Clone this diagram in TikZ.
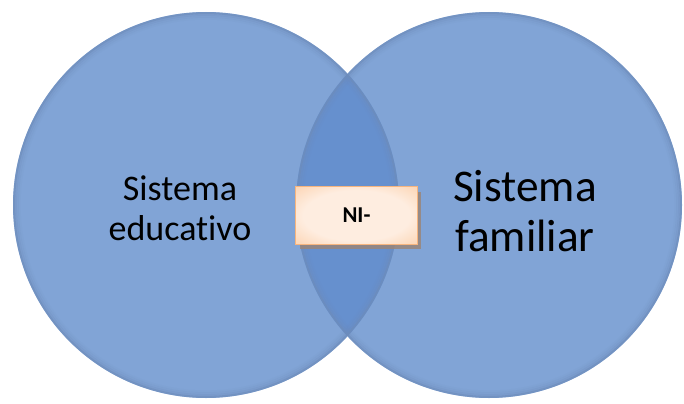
\documentclass[tikz,border=0pt]{standalone}
\usepackage{fontspec}
\setmainfont{Carlito}[Ligatures=NoCommon]
\usetikzlibrary{positioning,shadows}
\definecolor{vennfill}{HTML}{81A4D6}
\definecolor{vennboth}{HTML}{6690CE}
\definecolor{vennrim}{HTML}{6E8CBA}
\definecolor{boxedge}{HTML}{FAC08E}
\definecolor{boxlight}{HTML}{FEEDE0}
\definecolor{boxline}{HTML}{F7B57E}
\definecolor{boxshade}{HTML}{9C8474}
\pgfdeclareradialshading{niglow}{\pgfpoint{0bp}{0bp}}{%
  color(0bp)=(boxlight); color(22bp)=(boxlight); color(48bp)=(boxedge); color(50bp)=(boxedge)}

\begin{document}
\begin{tikzpicture}[x=0.75pt,y=-0.75pt,
  venn/.style={circle,fill=vennfill,minimum size=289.5pt,inner sep=0pt,outer sep=0pt},
  vtext/.style={align=center,text=black,inner sep=0pt},
  nibox/.style={draw=boxline,line width=0.6pt,shading=niglow,
    minimum width=91pt,minimum height=43pt,font=\fontsize{17}{19}\selectfont\bfseries,
    drop shadow={shadow xshift=3pt,shadow yshift=-3.5pt,fill=boxshade,opacity=0.8}}]
\useasboundingbox (0,0) rectangle (684,403);
\node (edu) [venn] at (206,205) {};
\node (fam) [venn] at (489,205) {};
\begin{scope}
  \clip (edu.center) circle[radius=144.75pt];
  \fill[vennboth] (fam.center) circle[radius=144.75pt];
\end{scope}
% soft rims
\foreach \c in {edu,fam}{
  \foreach \d/\o in {0.8/0.7,2.2/0.35,3.6/0.18,5/0.08}
    \draw[vennrim,line width=1.5pt,opacity=\o] (\c.center) circle[radius=144.75pt-\d pt];
}
\node (edutext) [vtext,font=\fontsize{27}{30}\selectfont] at (180,208) {Sistema\\educativo};
\node (famtext) [vtext,font=\fontsize{34}{38}\selectfont] at (525,211) {Sistema\\familiar};
\node (ni) [nibox] at (356.5,215.5) {NI-};
\end{tikzpicture}
\end{document}
